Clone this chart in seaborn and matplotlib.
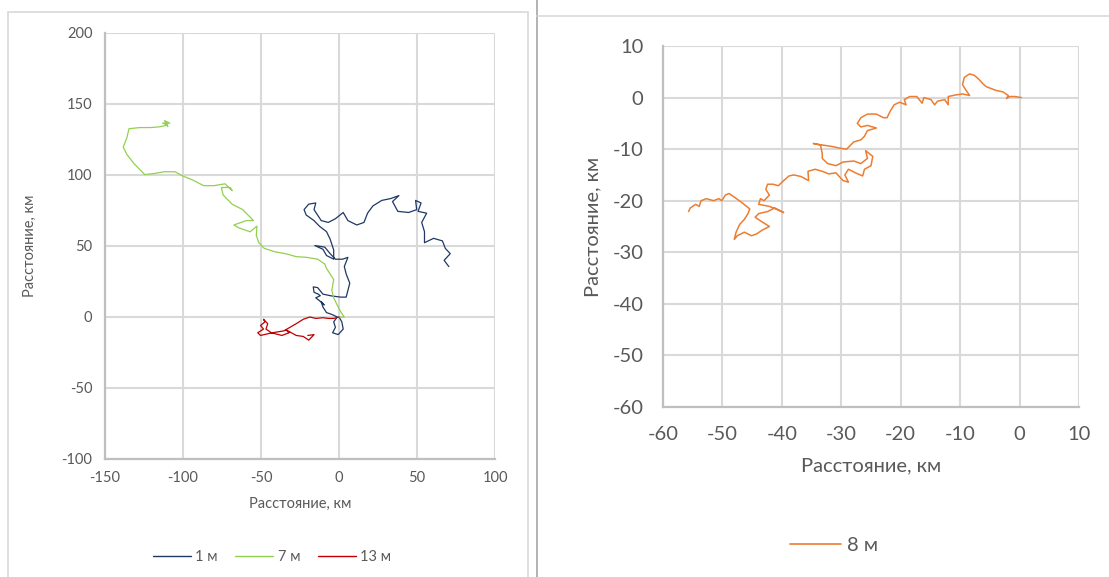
import seaborn as sns
import matplotlib.pyplot as plt
import pandas as pd
from matplotlib.patches import Rectangle
from matplotlib.lines import Line2D

# 1 m track (left chart)
x1 = [0, 1.8, 2.7, -0.5, -4.1, -2.3, -3.4, -1.1, -4.6, -8, -10.3, -11.4, -9.5, -12.5, -14.9, -12, -13.3,
      -16, -16.5, -13.7, -10.3, -4.6, 1.1, 4.6, 5.7, 6.9, 4.6, 3.4, 5.7, 2.3, -2.3, -5.7, -9.1, -15.5,
      -10.3, -8, -3.4, -3.4, -5.7, -8, -12.6, -16, -21, -22.4, -19.4, -14.9, -16, -11.4, -6.9, -2.3,
      2.7, 5.7, 11.4, 16, 18.3, 21.7, 27.4, 33.1, 38.4, 34.3, 37.7, 44.6, 49.8, 49.1, 52.6, 50.7, 56.2,
      53, 54.8, 54.8, 60.6, 66.3, 68.1, 71.3, 67.4, 70.4]
y1 = [0, -3.4, -8.5, -12.4, -11.1, -7.3, -3.4, 0, 1.8, 3.1, 7, 10.9, 8.5, 11.5, 13.5, 15, 16.1,
      17.4, 21.2, 20.7, 16.1, 14.8, 14, 14, 18.7, 23.8, 30.3, 35.5, 42, 40.7, 40.7, 44.6, 49.2, 50.3,
      47.7, 43.3, 40.7, 47.2, 54.9, 60.1, 64, 67.9, 71.8, 75.6, 79.5, 80.3, 75.6, 67.9, 66.6, 69.2,
      73.6, 67.9, 64.8, 66.6, 73.1, 78.2, 82.1, 83.4, 85.5, 81.3, 74.4, 73.6, 75.6, 82.1, 80.3, 74.4, 73.1,
      66.6, 60.1, 52.3, 55.4, 53.6, 48.4, 44.6, 39.9, 35.5]

# 7 m track (left chart)
x7 = [0, 3.4, 1.1, -1.1, -3.4, -4.6, -3.4, -5.7, -8, -9.1, -13.7, -20.6, -27.4, -34.3, -41.1, -48,
      -51.4, -53, -52.6, -57, -64, -67.4, -59.4, -54.8, -61.7, -68.6, -74.3, -75.4, -69.7, -68.5, -73.1,
      -80, -86.8, -93.7, -100.5, -105.1, -112, -118.8, -124.5, -126.8, -131.4, -136, -138.3, -136,
      -134.6, -127.8, -121, -115.2, -109.7, -113.1, -108.5, -111.9, -109.7]
y7 = [0, 0, 3.6, 8.3, 13.5, 18.7, 26.4, 30.3, 34.2, 37.3, 40.7, 42, 42.5, 44.6, 45.9, 48.4,
      52.3, 57.5, 64, 60, 62.7, 64.8, 67.9, 67.9, 75.6, 79.5, 86, 91.2, 91.2, 89, 93.8,
      92.5, 92.5, 96.4, 99.5, 102.3, 102.3, 101, 100.3, 102.8, 108, 114.5, 119.7, 126.2,
      132.6, 133.4, 133.4, 133.9, 135.2, 136.5, 136.5, 138.3, 134]

# 13 m track (left chart)
x13 = [0, -3.4, -6.9, -10.3, -14.9, -18.7, -22.9, -27.4, -31.5, -35.4, -40, -45.2, -50.3, -52.1,
       -48.4, -50.3, -47.5, -48.4, -45.7, -46.8, -43.4, -36.6, -32, -34, -27.4, -22.9, -19.4, -16, -20]
y13 = [0, -1, -1, -0.5, -1, 0, -1.6, -4.7, -7.3, -9.8, -10.6, -11.7, -13, -11.1,
       -8.5, -6, -3.4, -1.6, -4.7, -8.5, -11.1, -13, -11.1, -9, -13, -13.7, -16.3, -12.4, -13]

# 8 m track (right chart)
x8 = [0.3, -0.8, -1.7, -2.2, -1.9, -2.8, -4, -4.9, -5.6, -6.1, -6.9, -7.6, -8.4, -9.3, -9.6, -9,
      -8.4, -9.6, -10.8, -12, -12, -12.6, -13.8, -14.3, -14.9, -16.1, -16.4, -17.3, -18.5, -19.4,
      -19.1, -20.2, -21.1, -21.7, -22.3, -22.9, -24.1, -25.6, -26.7, -27.3, -26.7, -25.6, -24.1,
      -25.6, -26.1, -26.7, -27.9, -28.5, -29.1, -30.3, -31.5, -32.6, -33.8, -34.7, -33.5, -33.2,
      -33.2, -32.3, -30.9, -29.7, -27.9, -26.7, -25.6, -25.9, -24.7, -25, -26.1, -26.4, -27.6,
      -28.8, -29.4, -28.8, -29.7, -30.9, -32.1, -33.2, -34.4, -35.6, -35.5, -36.8, -38, -38.8,
      -39.7, -40.6, -41.5, -42.4, -42.7, -42.1, -43, -43.6, -43.9, -42.1, -40.6, -39.7, -41.2,
      -42.4, -43.9, -44.5, -43.6, -42.1, -43.3, -44.2, -45.1, -46.3, -47.5, -48, -47.7, -47.1,
      -46.3, -45.7, -45.4, -46.8, -48, -48.9, -49.5, -50.1, -50.6, -51.5, -52.7, -53.6, -53.9,
      -54.5, -55.4, -55.7]
y8 = [0, 0.2, 0.2, -0.2, 0.4, 1.1, 1.4, 1.8, 2.1, 2.6, 3.6, 4.3, 4.6, 3.9, 2.5, 1.4,
      0.4, 0.7, 0.5, 0.2, -1.4, -0.4, -0.7, -1.4, -0.4, 0, -1.1, 0.2, 0.2, -0.4,
      -1.4, -0.9, -1.4, -2.5, -3.9, -3.9, -3.2, -3.2, -3.9, -5, -5.7, -5.4, -5.9,
      -6.4, -7.5, -8.2, -8.6, -9.3, -10, -9.8, -9.5, -9.3, -9.1, -8.9, -9.2, -10.9,
      -11.8, -12.8, -13.2, -12.5, -12.3, -12.8, -11.8, -10.3, -11.4, -13.2, -13.9, -15.2, -14.6,
      -13.9, -15, -16.4, -16.1, -14.6, -14.8, -14.3, -13.9, -14.3, -16.1, -15.3, -15, -15.2,
      -16.1, -17.1, -16.8, -16.8, -17.8, -18.9, -20, -19.6, -20.7, -21.1, -21.8, -22.3, -21.4,
      -22.1, -22.5, -23.2, -23.9, -25, -25.7, -26.4, -26.8, -26.1, -26.8, -27.5, -26.1, -24.6,
      -23.6, -22.5, -21.6, -20.3, -19.3, -18.6, -18.9, -20, -19.6, -20, -19.6, -20, -21.1,
      -20.7, -21.4, -22.1]

left_tracks = pd.concat([
    pd.DataFrame({"x": x1, "y": y1, "label": "1 м"}),
    pd.DataFrame({"x": x7, "y": y7, "label": "7 м"}),
    pd.DataFrame({"x": x13, "y": y13, "label": "13 м"}),
])
right_track = pd.DataFrame({"x": x8, "y": y8})

left_colors = {"1 м": "#203864", "7 м": "#92d050", "13 м": "#c00000"}
orange = "#ed7d31"
grid_c = "#d9d9d9"
text_c = "#595959"

sns.set_style("white")
plt.rcParams["font.family"] = ["Lato", "DejaVu Sans"]
plt.rcParams["axes.unicode_minus"] = False

fig = plt.figure(figsize=(11.09, 5.77), dpi=100)

# chart area borders
fig.patches.append(Rectangle((8 / 1109, -0.05), 520 / 1109, 1.05 - 12 / 577, transform=fig.transFigure,
                             fill=False, edgecolor=grid_c, lw=1.2))
fig.add_artist(Line2D([537 / 1109, 537 / 1109], [0, 1], color="#a6a6a6", lw=1.2))
fig.add_artist(Line2D([537 / 1109, 1], [1 - 16 / 577, 1 - 16 / 577], color=grid_c, lw=1.2))

ax1 = fig.add_axes([105 / 1109, 1 - 459 / 577, 390 / 1109, 426 / 577])
ax2 = fig.add_axes([663 / 1109, 1 - 407 / 577, 416 / 1109, 361 / 577])

sns.lineplot(data=left_tracks, x="x", y="y", hue="label", palette=left_colors, sort=False,
             estimator=None, lw=0.9, legend=False, ax=ax1)
sns.lineplot(data=right_track, x="x", y="y", color=orange, sort=False, estimator=None,
             lw=1.1, legend=False, ax=ax2)

ax1.set_xlim(-150, 100)
ax1.set_ylim(-100, 200)
ax1.set_xticks(range(-150, 101, 50))
ax1.set_yticks(range(-100, 201, 50))
ax2.set_xlim(-60, 10)
ax2.set_ylim(-60, 10)
ax2.set_xticks(range(-60, 11, 10))
ax2.set_yticks(range(-60, 11, 10))

for ax, fs, pad in [(ax1, 10.5, 9), (ax2, 14.5, 14)]:
    ax.grid(True, color=grid_c, lw=1.5)
    ax.set_axisbelow(True)
    for side in ["top", "right"]:
        ax.spines[side].set_visible(False)
    for side in ["left", "bottom"]:
        ax.spines[side].set_color("#bfbfbf")
        ax.spines[side].set_linewidth(1.6)
    ax.tick_params(length=0, labelsize=fs, labelcolor=text_c, pad=pad)
    ax.set_xlabel("Расстояние, км", fontsize=fs, color=text_c)
    ax.set_ylabel("Расстояние, км", fontsize=fs, color=text_c)

ax1.xaxis.labelpad = 8
ax1.yaxis.labelpad = 18
ax2.xaxis.labelpad = 10
ax2.yaxis.labelpad = 8

h1 = [Line2D([], [], color=c, lw=1.0) for c in left_colors.values()]
fig.legend(h1, list(left_colors.keys()), loc="center", bbox_to_anchor=(272 / 1109, 1 - 557 / 577),
           ncol=3, frameon=False, fontsize=10.5, labelcolor=text_c, handlelength=2.6,
           columnspacing=1.2, handletextpad=0.3)
h2 = [Line2D([], [], color=orange, lw=1.2)]
fig.legend(h2, ["8 м"], loc="center", bbox_to_anchor=(834 / 1109, 1 - 545 / 577),
           frameon=False, fontsize=14.5, labelcolor=text_c, handlelength=2.5, handletextpad=0.3)

fig.savefig("out.png", dpi=100)
